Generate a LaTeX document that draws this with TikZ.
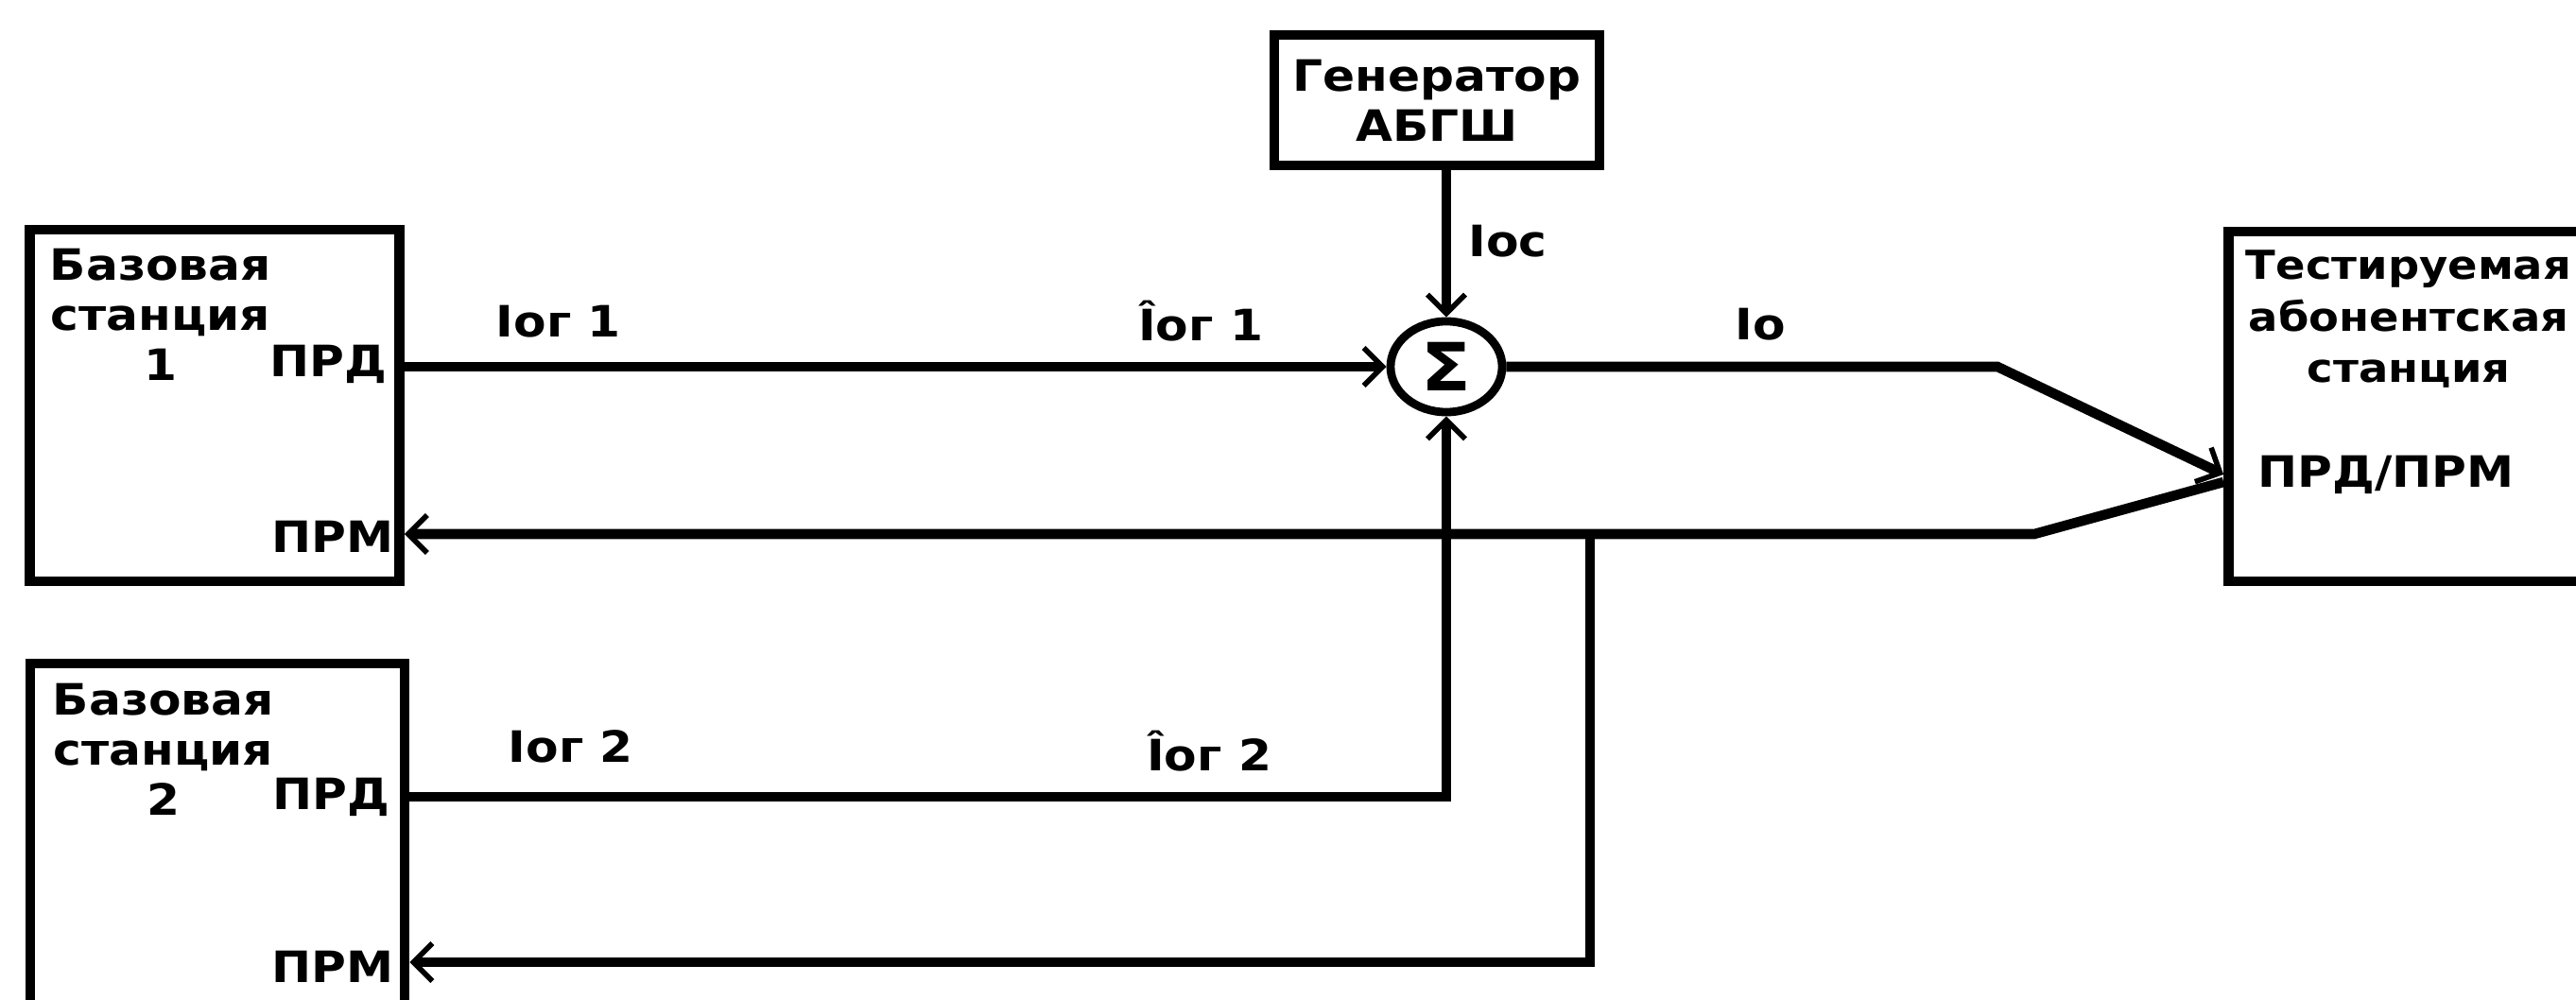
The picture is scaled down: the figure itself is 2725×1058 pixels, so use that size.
\documentclass[tikz,border=0pt]{standalone}
\usepackage{fontspec}
\setmainfont{DejaVu Sans}[FakeStretch=1.1]
\usetikzlibrary{positioning, arrows.meta, shapes.geometric, calc}

\begin{document}
\begin{tikzpicture}[x=0.01cm, y=-0.01cm,
    box/.style={draw, line width=3pt, rectangle, inner sep=0pt},
    lbl/.style={font=\bfseries\fontsize{13}{15}\selectfont, inner sep=0pt, align=center},
    wire/.style={line width=3pt},
    arr/.style={wire, -{Straight Barb[length=2mm, width=4mm, line width=1.6pt]}}]
  \useasboundingbox (0,0) rectangle (2725,1058);

  % base stations
  \node[box, minimum width=3.91cm, minimum height=3.72cm] (bs1) at (227,429) {};
  \node[lbl] (bs1t) at (170,333) {Базовая\\станция\\1};
  \node[lbl, anchor=east] (bs1prd) at (410,385) {ПРД};
  \node[lbl, anchor=east] (bs1prm) at (417,568) {ПРМ};

  \node[box, minimum width=3.96cm, minimum height=3.72cm] (bs2) at (230,888) {};
  \node[lbl] (bs2t) at (173,793) {Базовая\\станция\\2};
  \node[lbl, anchor=east] (bs2prd) at (413,843) {ПРД};
  \node[lbl, anchor=east] (bs2prm) at (417,1023) {ПРМ};

  % noise generator and adder
  \node[box, lbl, minimum width=3.44cm, minimum height=1.38cm] (gen) at (1520,106) {Генератор\\АБГШ};
  \node[draw, ellipse, line width=2.5pt, minimum width=1.18cm, minimum height=0.96cm, inner sep=0pt,
        font=\bfseries\fontsize{20}{20}\selectfont] (sig) at (1530,388) {Σ};

  % mobile station under test
  \node[box, minimum width=3.91cm, minimum height=3.70cm] (ms) at (2553,430) {};
  \node[lbl, font=\bfseries\fontsize{12}{15.5}\selectfont] (mst) at (2548,338) {Тестируемая\\абонентская\\станция};
  \node[lbl, anchor=west] (msport) at (2388,502) {ПРД/ПРМ};

  \coordinate (msin) at (ms.west |- 0,502);
  \coordinate (msout) at (ms.west |- 0,510);
  \coordinate (bendo) at (2113,388);
  \coordinate (bendr) at (2152,565);
  \coordinate (tap) at (1682,565);

  % connections
  \draw[arr] (sig |- gen.south) -- (sig.north);
  \draw[arr] (bs1.east |- sig) -- (sig.west);
  \draw[arr] (bs2.east |- 0,843) -- (sig |- 0,843) -- (sig.south);
  \draw[arr] (sig.east) -- (bendo) -- (msin);
  \draw[arr] (msout) -- (bendr) -- (bs1.east |- bendr);
  \draw[arr] (tap) -- (tap |- 0,1018) -- (bs2.east |- 0,1018);

  % signal labels
  \node[lbl] (iog1) at (591,340) {Iог 1};
  \node[lbl] (iogh1) at (1270,340) {Îог 1};
  \node[lbl] (iog2) at (604,790) {Iог 2};
  \node[lbl] (iogh2) at (1279,795) {Îог 2};
  \node[lbl] (ioc) at (1595,255) {Iос};
  \node[lbl] (io) at (1862,343) {Iо};
\end{tikzpicture}
\end{document}
